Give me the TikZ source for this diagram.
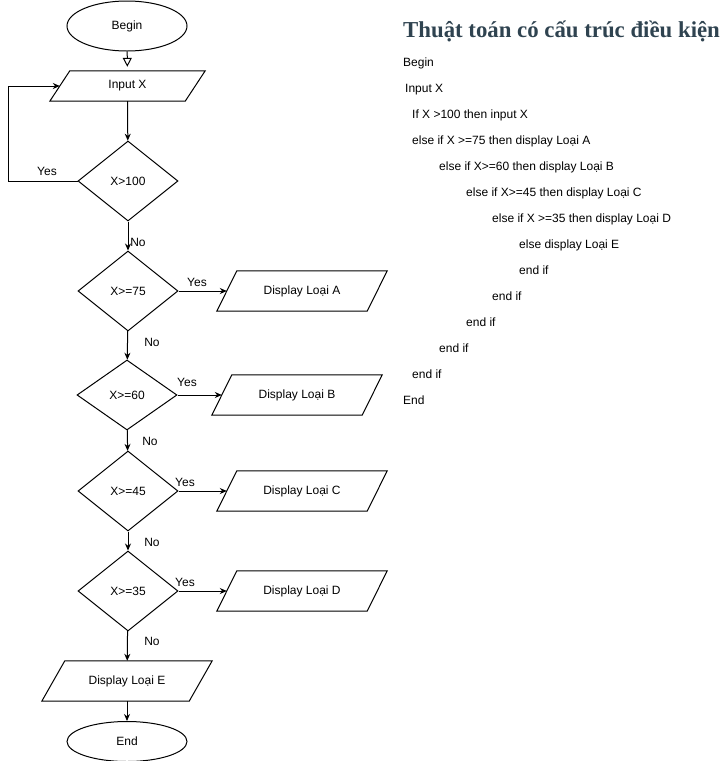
\documentclass[tikz,border=0pt]{standalone}
\usepackage{fontspec}
\setmainfont{Liberation Sans}
\newfontfamily\titlefont{Liberation Serif}
\usetikzlibrary{shapes.geometric,arrows.meta}
\definecolor{titlecol}{HTML}{2F4350}
\tikzset{
  every node/.style={font=\fontsize{12}{14}\selectfont, inner sep=0pt},
  term/.style={draw, ellipse, line width=1pt, minimum width=120pt, minimum height=#1},
  term/.default=50pt,
  dec/.style={draw, diamond, line width=1pt, minimum width=100pt, minimum height=#1},
  dec/.default=80pt,
  io/.style={rectangle, minimum height=40pt, append after command={\pgfextra{%
     \draw[line width=1pt] ([xshift=#1]\tikzlastnode.north west) -- ([xshift=#1]\tikzlastnode.north east)
       -- ([xshift=-#1]\tikzlastnode.south east) -- ([xshift=-#1]\tikzlastnode.south west) -- cycle;}}},
  flow/.style={line width=1pt, -{Stealth[length=7pt,width=6pt]}},
  lbl/.style={font=\fontsize{12}{14}\selectfont},
  code/.style={anchor=base west, font=\fontsize{12}{14}\selectfont},
}
\begin{document}
\begin{tikzpicture}[x=1pt,y=-1pt]
\useasboundingbox (0,0) rectangle (728,761);
% flowchart
\node[term] (begin) at (127,26) {Begin};
\node[io=10pt, minimum width=135pt, minimum height=30pt] (inx) at (127.5,86) {Input X};
\node[dec] (d1) at (128,181) {X>100};
\node[dec] (d2) at (128,291) {X>=75};
\node[dec=70pt] (d3) at (127,395) {X>=60};
\node[dec] (d4) at (128,491) {X>=45};
\node[dec] (d5) at (128,591) {X>=35};
\node[io=10pt, minimum width=150pt] (dA) at (302,291) {Display Loại A};
\node[io=10pt, minimum width=150pt] (dB) at (297,395) {Display Loại B};
\node[io=10pt, minimum width=150pt] (dC) at (302,491) {Display Loại C};
\node[io=10pt, minimum width=150pt] (dD) at (302,591) {Display Loại D};
\node[io=11.5pt, minimum width=147pt] (dE) at (127,681) {Display Loại E};
\node[term=40pt] (end) at (127,741.5) {End};
\coordinate (lp) at (8,181);
% connectors
\draw[line width=1pt, -{Triangle[open,length=9pt,width=9pt]}, shorten >=4pt] (begin) -- (inx);
\draw[flow] (inx) -- (d1);
\draw[flow] (d1.west) -- (lp) |- (inx.west);
\draw[flow] (d1) -- (d2);
\draw[flow] (d2) -- (d3);
\draw[flow] (d3) -- (d4);
\draw[flow] (d4) -- (d5);
\draw[flow] (d5) -- (dE);
\draw[flow] (dE) -- (end);
\draw[flow] (d2) -- (dA);
\draw[flow] (d3) -- (dB);
\draw[flow] (d4) -- (dC);
\draw[flow] (d5) -- (dD);
% labels
\node[lbl] (y1) at (47,171) {Yes};
\node[lbl] (n1) at (138,242) {No};
\node[lbl] (y2) at (197,282) {Yes};
\node[lbl] (n2) at (152,342) {No};
\node[lbl] (y3) at (187,382) {Yes};
\node[lbl] (n3) at (150,441) {No};
\node[lbl] (y4) at (185,482) {Yes};
\node[lbl] (n4) at (152,542) {No};
\node[lbl] (y5) at (185,582) {Yes};
\node[lbl] (n5) at (152,641) {No};
% text block
\node[anchor=base west, font=\titlefont\bfseries\fontsize{22.8}{26}\selectfont, text=titlecol] (title) at (403,37) {Thuật toán có cấu trúc điều kiện};
\node[code] (c1) at (403,66) {Begin};
\node[code] (c2) at (405,92) {Input X};
\node[code] (c3) at (412,118) {If X >100 then input X};
\node[code] (c4) at (412,144) {else if X >=75 then display Loại A};
\node[code] (c5) at (439,170) {else if X>=60 then display Loại B};
\node[code] (c6) at (466,196) {else if X>=45 then display Loại C};
\node[code] (c7) at (492,222) {else if X >=35 then display Loại D};
\node[code] (c8) at (519,248) {else display Loại E};
\node[code] (c9) at (519,274) {end if};
\node[code] (c10) at (492,300) {end if};
\node[code] (c11) at (466,326) {end if};
\node[code] (c12) at (439,352) {end if};
\node[code] (c13) at (412,378) {end if};
\node[code] (c14) at (403,404) {End};
\end{tikzpicture}
\end{document}
